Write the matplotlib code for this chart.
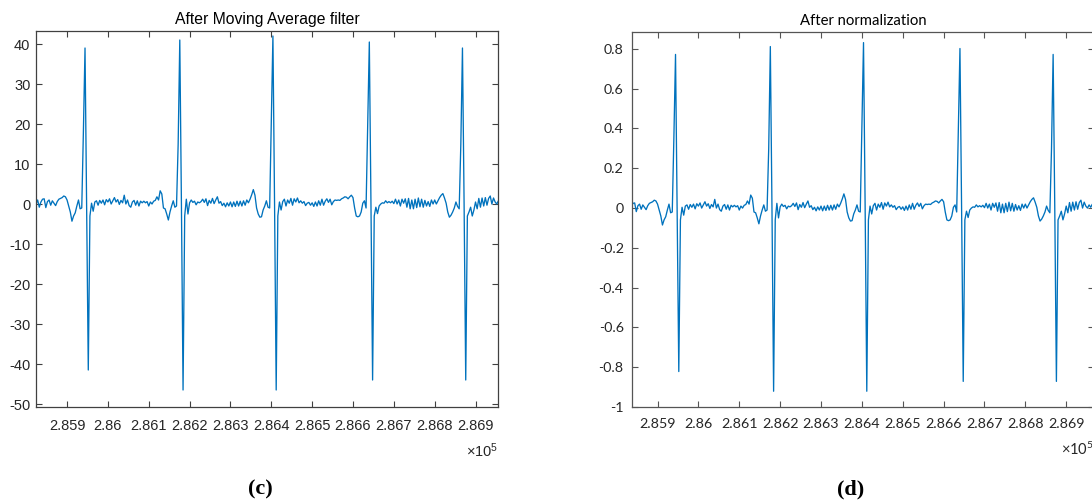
import numpy as np
import matplotlib
matplotlib.use("Agg")
import matplotlib.pyplot as plt
from matplotlib.ticker import FixedLocator, FixedFormatter

# sample index axis (every 4th sample)
samples = np.arange(285824, 286969, 4)

# signal after moving average filter
filtered = [
    0.0, 1.0, -0.8, 0.5, 1.2, 1.3, -0.9, 0.6, 1.0, -0.3,
    0.8, 0.2, -0.4, 0.6, 1.2, 1.4, 1.6, 2.0, 1.8, 1.0,
    -0.5, -2.0, -4.3, -3.0, -2.2, -0.5, 1.0, -1.2, -1.0, 18,
    39, 0, -41.5, -3, 0.2, -1.8, 0.5, 0.8, -0.3, 0.9,
    0.2, 1.0, -0.2, 1.1, 0.5, 1.3, 0.0, 0.8, 1.6, 0.5,
    1.1, -0.1, 0.9, 0.3, 2.2, 0.0, 1.0, -0.4, -0.8, 0.5,
    0.9, -0.3, 0.8, -0.5, 0.7, 0.3, 0.7, 0.3, 0.6, -0.5,
    0.5, 0.0, 0.7, 0.9, 1.8, 1.0, 3.3, 2.5, -1.0, -1.2,
    -2.5, -4.0, -2.0, -0.5, 0.8, -0.8, -0.5, 15, 41, 0,
    -46.5, -3, 1.2, -2.5, 0.3, 1.0, 0.4, 0.7, -0.2, 0.5,
    0.3, 0.6, 1.2, 0.4, 1.3, -0.4, 0.9, 0.2, 1.4, 0.1,
    1.0, 1.8, 0.2, 0.6, -0.4, 0.2, -0.7, 0.3, -0.5, 0.5,
    -0.7, 0.5, -0.6, 0.7, -0.5, 0.7, -0.5, 0.8, -0.3, 1.0,
    0.3, 1.2, 2.3, 3.6, 2.2, -1.0, -2.5, -3.3, -3.2, -1.5,
    -0.5, 0.8, -0.8, -1.0, 20, 42, 0, -46.5, -3, 0.5,
    -1.5, 0.6, 1.2, -0.5, 1.0, 0.2, 1.4, -0.3, 1.3, 0.5,
    1.5, 0.3, 0.8, 0.2, 0.6, -0.4, 0.2, 0.4, -0.3, 0.3,
    -0.6, 0.5, -0.5, 0.8, -0.3, 1.2, -0.3, 0.7, 1.3, 0.4,
    1.2, -0.2, 0.6, 1.0, 0.9, 1.0, 0.9, 1.3, 1.5, 1.8,
    1.7, 1.3, 1.8, 2.2, 1.6, -1.0, -3.0, -3.2, -3.0, -2.0,
    0.2, 0.8, -1.0, 20, 40.5, 0, -44, -3, -0.8, -2.4,
    -0.5, 0.0, 0.3, 0.2, 0.8, 0.3, 0.6, 0.3, 0.7, 0.1,
    1.2, 0.0, 1.0, -0.5, 1.2, 0.2, 1.3, -0.8, 1.4, -1.2,
    1.0, -1.2, 1.2, -0.9, 1.5, -0.7, 1.2, -0.8, 0.9, -0.5,
    0.6, -0.6, 1.0, 0.0, 1.0, 0.0, 0.8, 1.6, 2.2, 2.6,
    1.5, 0.2, -2.0, -3.3, -2.8, -2.0, -1.0, 0.5, -0.6, -1.2,
    15, 39, 0, -44, -3, -2, -0.8, -3.0, -1.5, 0.5,
    -1.2, 1.4, -0.8, 1.5, -0.5, 1.6, -0.3, 1.4, 2.0, 0.0,
    1.5, 0.5, 0.0, 0.8, 0.2, 1.0, 0.3,
]
# right panel is the same trace divided by this factor (peak 42 -> 0.83)
norm_factor = 50.5
normalized = np.array(filtered) / norm_factor

xticks = [285900, 286000, 286100, 286200, 286300, 286400,
          286500, 286600, 286700, 286800, 286900]
xtick_labels = ["2.859", "2.86", "2.861", "2.862", "2.863", "2.864",
                "2.865", "2.866", "2.867", "2.868", "2.869"]

yticks_c = [-50, -40, -30, -20, -10, 0, 10, 20, 30, 40]
ytick_labels_c = ["-50", "-40", "-30", "-20", "-10", "0", "10", "20", "30", "40"]
yticks_d = [-1, -0.8, -0.6, -0.4, -0.2, 0, 0.2, 0.4, 0.6, 0.8]
ytick_labels_d = ["-1", "-0.8", "-0.6", "-0.4", "-0.2", "0", "0.2", "0.4", "0.6", "0.8"]

line_color = "#0072BD"

fig = plt.figure(figsize=(10.92, 5.04), dpi=100)
fig.patch.set_facecolor("white")

W, H = 1092.0, 504.0
ax1 = fig.add_axes([36 / W, (H - 407) / H, 462 / W, 376 / H])
ax2 = fig.add_axes([632 / W, (H - 407) / H, 462 / W, 375 / H])


def style_axes(ax, font, size, spine_col, xpad, ypad):
    for s in ax.spines.values():
        s.set_color(spine_col)
        s.set_linewidth(0.9)
    ax.tick_params(direction="in", length=4, width=0.8, color=spine_col,
                   top=True, right=True, labelsize=size, labelcolor="#262626")
    ax.tick_params(axis="x", pad=xpad)
    ax.tick_params(axis="y", pad=ypad)
    for lab in ax.get_xticklabels() + ax.get_yticklabels():
        lab.set_fontfamily(font)


ax1.plot(samples, filtered, color=line_color, lw=0.95)
ax1.set_xlim(285824, 286955)
ax1.set_ylim(-50.75, 43.25)
ax1.xaxis.set_major_locator(FixedLocator(xticks))
ax1.xaxis.set_major_formatter(FixedFormatter(xtick_labels))
ax1.yaxis.set_major_locator(FixedLocator(yticks_c))
ax1.yaxis.set_major_formatter(FixedFormatter(ytick_labels_c))
style_axes(ax1, "Liberation Sans", 10.5, "#404040", 8.5, 4)
ax1.set_title("After Moving Average filter", fontsize=11.3,
              fontfamily="Liberation Sans", pad=5)
ax1.text(1.0, -0.115, "$\\mathregular{×10^{5}}$", transform=ax1.transAxes,
         ha="right", va="center", fontsize=10.5, color="#262626",
         fontfamily="Liberation Sans")

ax2.plot(samples, normalized, color=line_color, lw=0.95)
ax2.set_xlim(285837.5, 286968)
ax2.set_ylim(-1.0, 0.885)
ax2.xaxis.set_major_locator(FixedLocator(xticks))
ax2.xaxis.set_major_formatter(FixedFormatter(xtick_labels))
ax2.yaxis.set_major_locator(FixedLocator(yticks_d))
ax2.yaxis.set_major_formatter(FixedFormatter(ytick_labels_d))
style_axes(ax2, "Lato", 10.3, "#555555", 8, 6)
ax2.set_title("After normalization", fontsize=10.7, fontfamily="Lato", pad=5)
ax2.text(1.0, -0.113, "$\\mathregular{×10^{5}}$", transform=ax2.transAxes,
         ha="right", va="center", fontsize=10.5, color="#262626",
         fontfamily="Lato")

fig.text(260 / W, 1 - 489 / H, "(c)", ha="center", va="center",
         fontsize=16, fontfamily="Liberation Serif", fontweight="bold")
fig.text(851 / W, 1 - 489 / H, "(d)", ha="center", va="center",
         fontsize=16, fontfamily="Liberation Serif", fontweight="bold")

fig.savefig("out.png", dpi=100)
